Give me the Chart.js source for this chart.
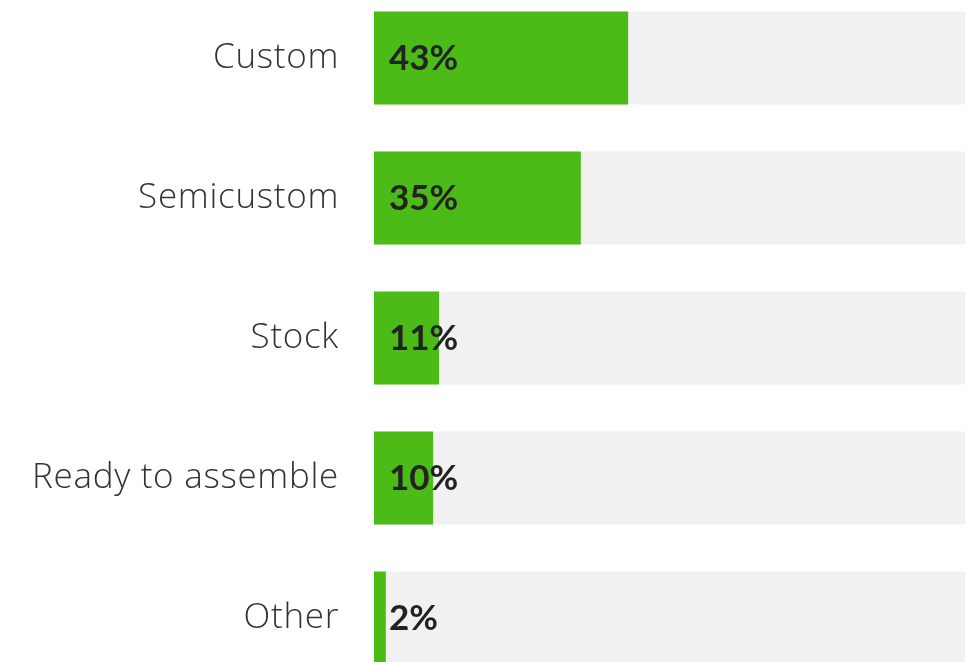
<!DOCTYPE html>
<html>
<head>
<meta charset="utf-8">
<script src="https://cdn.jsdelivr.net/npm/chart.js@4"></script>
<style>
  html, body { margin: 0; padding: 0; background: #fff; overflow: hidden; }
  .wrap { position: relative; width: 980px; height: 700px; margin-top: -12px; }
</style>
</head>
<body>
<div class="wrap"><canvas id="myChart"></canvas></div>
<script>
// Data
const categories = ['Custom', 'Semicustom', 'Stock', 'Ready to assemble', 'Other'];
const shares = [43, 35, 11, 10, 2];
const track = [100, 100, 100, 100, 100];

// a bit of letter spacing for the category labels
const spacing = {
  id: 'spacing',
  beforeDraw(chart) {
    chart.ctx.letterSpacing = '0.7px';
  },
};

// draws the "43%" labels inside the bars
const valueLabels = {
  id: 'valueLabels',
  afterDatasetsDraw(chart) {
    const ctx = chart.ctx;
    const meta = chart.getDatasetMeta(0);
    ctx.save();
    ctx.letterSpacing = '0px';
    ctx.font = 'bold 35px Lato';
    ctx.fillStyle = '#222';
    ctx.textBaseline = 'middle';
    ctx.textAlign = 'left';
    meta.data.forEach((bar, i) => {
      ctx.fillText(shares[i] + '%', chart.chartArea.left + 15, bar.y + 1);
    });
    ctx.restore();
  },
};

const ctx = document.getElementById('myChart').getContext('2d');
const data = {
  labels: categories,
  datasets: [
    {
      label: 'Share',
      data: shares,
      backgroundColor: '#4dbb17',
      order: 0,
      grouped: false,
      barPercentage: 1,
      categoryPercentage: 0.664,
    },
    {
      label: 'Track',
      data: track,
      backgroundColor: '#f1f1f1',
      order: 1,
      grouped: false,
      barPercentage: 1,
      categoryPercentage: 0.664,
    },
  ],
};
const config = {
  type: 'bar',
  data: data,
  options: {
    indexAxis: 'y',
    responsive: true,
    maintainAspectRatio: false,
    animation: false,
    layout: { autoPadding: false, padding: { top: 0, bottom: 0, left: 0, right: 15 } },
    plugins: {
      legend: { display: false },
      tooltip: { enabled: false },
    },
    scales: {
      x: {
        display: false,
        min: 0,
        max: 100,
      },
      y: {
        afterFit(scale) {
          scale.width = 374;
          // the big tick padding would otherwise push the bars inwards
          scale.paddingTop = 0;
          scale.paddingBottom = 0;
        },
        grid: { display: false, drawTicks: false },
        border: { display: false },
        ticks: {
          padding: 35,
          color: '#333',
          font: { family: 'Open Sans', size: 35, weight: '300' },
        },
      },
    },
  },
  plugins: [spacing, valueLabels],
};

const myChart = new Chart(ctx, config);
</script>
</body>
</html>
